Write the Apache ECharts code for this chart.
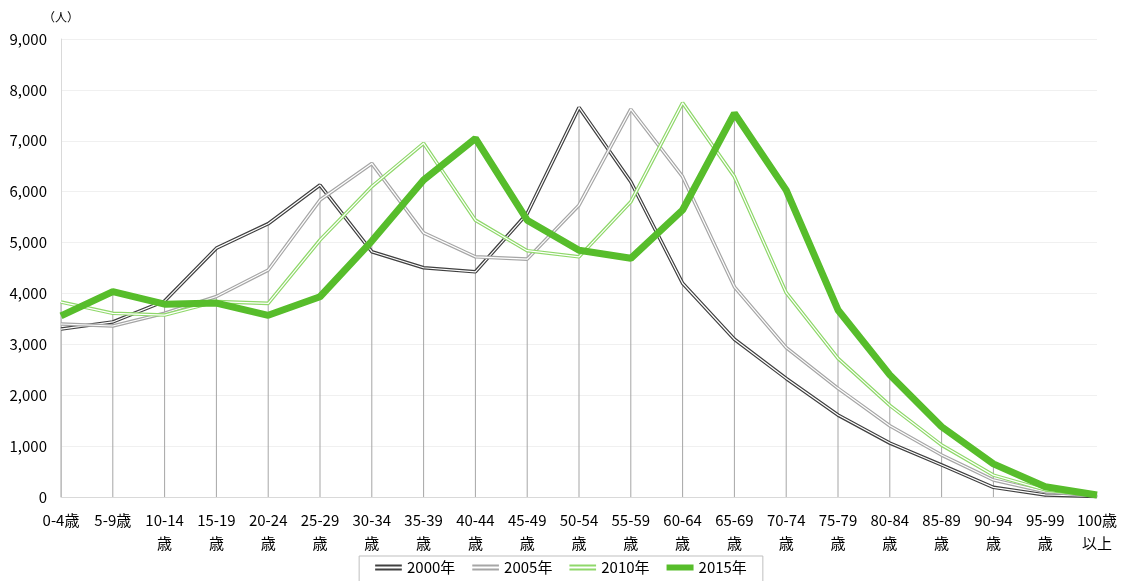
<!DOCTYPE html>
<html>
<head>
<meta charset="utf-8">
<script src="https://cdn.jsdelivr.net/npm/echarts@6/dist/echarts.min.js"></script>
<style>
  html, body { margin: 0; padding: 0; background: #fff; }
  #chart { width: 1122px; height: 581px; }
</style>
</head>
<body>
<div id="chart"></div>
<script>
// age groups (x axis)
var categories = ['0-4歳', '5-9歳', '10-14\n歳', '15-19\n歳', '20-24\n歳', '25-29\n歳', '30-34\n歳',
  '35-39\n歳', '40-44\n歳', '45-49\n歳', '50-54\n歳', '55-59\n歳', '60-64\n歳', '65-69\n歳',
  '70-74\n歳', '75-79\n歳', '80-84\n歳', '85-89\n歳', '90-94\n歳', '95-99\n歳', '100歳\n以上'];

var y2000 = [3300, 3440, 3850, 4890, 5370, 6130, 4820, 4505, 4425, 5570, 7655, 6195, 4200, 3100, 2330, 1610, 1060, 630, 190, 40, 10];
var y2005 = [3400, 3360, 3610, 3940, 4460, 5835, 6555, 5190, 4720, 4675, 5735, 7620, 6295, 4130, 2935, 2135, 1400, 825, 335, 105, 20];
var y2010 = [3830, 3610, 3575, 3840, 3805, 5050, 6100, 6950, 5440, 4840, 4720, 5800, 7745, 6295, 4015, 2725, 1800, 1020, 430, 140, 25];
var y2015 = [3560, 4035, 3790, 3810, 3570, 3935, 5030, 6230, 7045, 5440, 4850, 4690, 5640, 7540, 6030, 3675, 2400, 1380, 650, 200, 40];

var seriesNames = ['2000年', '2005年', '2010年', '2015年'];
var yTicks = [0, 9000, 1000]; // min, max, interval

var chart = echarts.init(document.getElementById('chart'));

// drop lines reach the highest value at each age group
var dropLines = categories.map(function (c, i) {
  return Math.max(y2000[i], y2005[i], y2010[i], y2015[i]);
});

var doubleIcon = 'path://M0,0H40V3H0ZM0,6H40V9H0Z';

function doubleLine(name, data, color) {
  return [
    {
      name: name, type: 'line', data: data, symbol: 'none', z: 3,
      lineStyle: { color: color, width: 3.6 }
    },
    {
      name: name + '_inner', type: 'line', data: data, symbol: 'none', z: 3,
      lineStyle: { color: '#ffffff', width: 1.2 }, tooltip: { show: false }
    }
  ];
}

var option = {
  animation: false,
  textStyle: { fontFamily: '"Noto Sans CJK JP", "Noto Sans", sans-serif' },
  grid: { left: 61, right: 25, top: 39, bottom: 84 },
  legend: {
    top: 556,
    left: 'center',
    borderColor: '#bfbfbf',
    borderWidth: 1,
    padding: [4, 16, 8, 16],
    itemGap: 17,
    itemWidth: 27,
    itemHeight: 6,
    textStyle: { fontSize: 15, color: '#000' },
    data: [
      { name: seriesNames[0], icon: doubleIcon, itemStyle: { color: '#404040' } },
      { name: seriesNames[1], icon: doubleIcon, itemStyle: { color: '#a6a6a6' } },
      { name: seriesNames[2], icon: doubleIcon, itemStyle: { color: '#8fd86a' } },
      { name: seriesNames[3], icon: 'rect', itemStyle: { color: '#57bd2b' } }
    ]
  },
  xAxis: {
    type: 'category',
    data: categories,
    boundaryGap: false,
    axisLine: { lineStyle: { color: '#d9d9d9', width: 1 } },
    axisTick: { show: false },
    axisLabel: { color: '#000', fontSize: 15, margin: 12, lineHeight: 23, interval: 0 }
  },
  yAxis: {
    type: 'value',
    min: yTicks[0],
    max: yTicks[1],
    interval: yTicks[2],
    name: '（人）',
    nameGap: 16,
    nameTextStyle: { color: '#000', fontSize: 12 },
    axisLine: { show: true, lineStyle: { color: '#d9d9d9' } },
    axisTick: { show: false },
    splitLine: { lineStyle: { color: '#f0f0f0' } },
    axisLabel: {
      color: '#000', fontSize: 15, margin: 14,
      formatter: function (v) { return v.toLocaleString('en-US'); }
    }
  },
  series: [].concat(
    [{
      name: 'drop', type: 'bar', data: dropLines, barWidth: 1, z: 1,
      itemStyle: { color: '#a6a6a6' }, silent: true
    }],
    doubleLine(seriesNames[0], y2000, '#404040'),
    doubleLine(seriesNames[1], y2005, '#a6a6a6'),
    doubleLine(seriesNames[2], y2010, '#8fd86a'),
    [{
      name: seriesNames[3], type: 'line', data: y2015, symbol: 'none', z: 4,
      lineStyle: { color: '#57bd2b', width: 7 }
    }]
  )
};

chart.setOption(option);
window.onresize = function () { chart.resize(); };
</script>
</body>
</html>
